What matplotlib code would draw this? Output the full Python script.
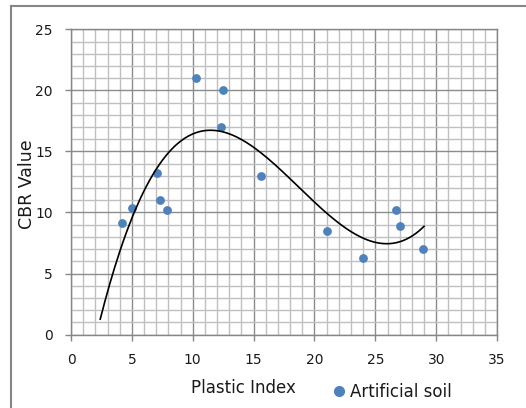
import matplotlib
matplotlib.use("Agg")
import matplotlib.pyplot as plt
import numpy as np
from matplotlib.lines import Line2D

# data
plastic_index = [4.2, 5.0, 7.1, 7.3, 7.9, 10.3, 12.5, 12.3, 15.6, 21.0, 24.0, 26.7, 27.0, 28.9]
cbr_value = [9.1, 10.4, 13.2, 11.0, 10.2, 21.0, 20.0, 17.0, 13.0, 8.5, 6.3, 10.2, 8.9, 7.0]
trend_range = [2.4, 29.0]

x_ticks = [0, 5, 10, 15, 20, 25, 30, 35]
y_ticks = [0, 5, 10, 15, 20, 25]

blue = "#4f81bd"
text_color = "#1a1a1a"
plt.rcParams["font.family"] = ["DejaVu Sans"]

fig = plt.figure(figsize=(5.26, 4.08), dpi=100)
ax = fig.add_axes([0.135, 0.18, 0.81, 0.748])

ax.set_xlim(0, 35)
ax.set_ylim(0, 25)
ax.set_xticks(x_ticks)
ax.set_yticks(y_ticks)
ax.set_xticks(np.arange(0, 36, 1), minor=True)
ax.set_yticks(np.arange(0, 26, 1), minor=True)
ax.grid(which="minor", color="#c0c0c0", linewidth=1.0)
ax.grid(which="major", color="#8c8c8c", linewidth=1.0)
ax.set_axisbelow(True)
ax.tick_params(which="minor", length=0)
ax.tick_params(which="major", length=4, width=1, color="#868686",
               labelcolor=text_color, labelsize=10, pad=9)
for side in ["left", "bottom", "top", "right"]:
    ax.spines[side].set_color("#868686")
    ax.spines[side].set_linewidth(1.0)

ax.scatter(plastic_index, cbr_value, s=40, color=blue, zorder=3, linewidths=0)

# third-order polynomial trendline
coef = np.polyfit(plastic_index, cbr_value, 3)
xs = np.linspace(trend_range[0], trend_range[1], 200)
ax.plot(xs, np.polyval(coef, xs), color="black", linewidth=1.2, zorder=4)

fig.text(243 / 526, 1 - 388 / 408, "Plastic Index", ha="center", va="center",
         color=text_color, fontsize=12)
fig.text(27 / 526, 1 - 184 / 408, "CBR Value", ha="center", va="center",
         rotation=90, color=text_color, fontsize=12.5)

handle = Line2D([], [], marker="o", linestyle="none", color=blue, markersize=7)
fig.legend([handle], ["Artificial soil"], loc="center left",
           bbox_to_anchor=(321 / 526, 1 - 392 / 408), frameon=False, fontsize=12,
           handletextpad=0.05, handlelength=1.2, borderpad=0, labelcolor=text_color)

# outer chart frame (top and left edges visible)
fig.add_artist(Line2D([11 / 526, 11 / 526], [0, 1 - 6 / 408],
                      transform=fig.transFigure, color="#868686", linewidth=1.5))
fig.add_artist(Line2D([11 / 526, 1], [1 - 6 / 408, 1 - 6 / 408],
                      transform=fig.transFigure, color="#868686", linewidth=1.5))

fig.savefig("out.png", dpi=100)
